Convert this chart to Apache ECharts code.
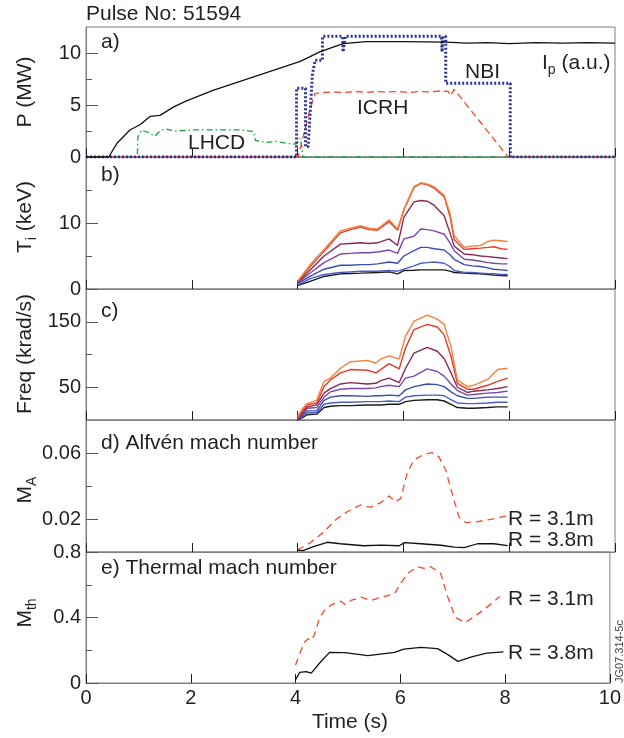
<!DOCTYPE html>
<html><head><meta charset="utf-8">
<script src="https://cdn.jsdelivr.net/npm/echarts@6/dist/echarts.min.js"></script>
<style>html,body{margin:0;padding:0;background:#fff}#c{width:624px;height:738px}</style>
</head><body><div id="c"></div>
<script>
// ---------- data ----------
const xTickLabels = [0, 2, 4, 6, 8, 10];
// panel a: power
const ipTime = [0, 0.43, 0.59, 0.83, 1.02, 1.21, 1.4, 1.65, 1.9, 2.4, 3.17, 4.05, 4.42, 4.86, 5.3, 6.0, 6.8, 7.2, 7.6, 8.0, 8.5, 9.0, 9.5, 10];
const ipVal  = [0, 0, 1.35, 2.6, 3.1, 3.9, 4.0, 4.8, 5.4, 6.4, 7.7, 9.2, 10.1, 10.9, 11.1, 11.1, 11.05, 10.95, 11.0, 10.9, 11.0, 10.95, 11.0, 10.95];
const nbiTime = [0, 3.98, 3.98, 4.15, 4.15, 4.2, 4.28, 4.33, 4.47, 4.47, 4.85, 4.86, 4.89, 4.9, 6.72, 6.73, 6.75, 6.78, 6.8, 6.8, 8.02, 8.02, 10];
const nbiVal  = [0, 0, 6.6, 6.6, 1.0, 1.0, 7.9, 9.3, 9.3, 11.6, 11.6, 10.1, 10.1, 11.6, 11.6, 10.1, 11.6, 11.6, 11.6, 7.1, 7.1, 0, 0];
const icrhTime = [0, 4.01, 4.23, 4.33, 4.5, 4.7, 4.9, 5.1, 5.3, 5.5, 5.7, 5.9, 6.1, 6.3, 6.5, 6.7, 6.85, 6.89, 6.96, 7.98, 10];
const icrhVal  = [0, 0, 4.5, 6.1, 6.2, 6.25, 6.2, 6.3, 6.2, 6.3, 6.25, 6.3, 6.2, 6.3, 6.25, 6.35, 6.3, 5.9, 6.5, 0, 0];
const lhcdTime = [0, 0.97, 0.98, 1.05, 1.1, 1.2, 1.3, 1.4, 1.5, 1.7, 2.0, 2.3, 2.6, 2.9, 3.17, 3.2, 3.4, 3.6, 3.8, 3.97, 4.02, 4.05, 4.08, 4.1, 10];
const lhcdVal  = [0, 0, 1.9, 2.6, 2.5, 2.3, 2.0, 2.5, 2.7, 2.5, 2.6, 2.6, 2.6, 2.6, 2.45, 1.6, 1.4, 1.5, 1.3, 1.25, 1.5, 1.8, 1.0, 0, 0];
// panel b: Ti (keV)
const tiTime = [4.0, 4.25, 4.5, 4.81, 5.0, 5.19, 5.35, 5.51, 5.73, 5.89, 6.01, 6.2, 6.33, 6.45, 6.58, 6.77, 6.88, 6.96, 7.15, 7.3, 7.46, 7.6, 7.71, 7.85, 7.97];
const tiOrange = [1.2, 3.8, 6.0, 8.8, 9.2, 9.6, 9.2, 9.1, 10.5, 9.1, 12.1, 15.5, 16.1, 15.9, 15.5, 14.2, 11.5, 8.1, 6.3, 6.5, 6.6, 7.2, 7.4, 7.3, 7.2];
const tiRed    = [1.1, 3.5, 5.7, 8.5, 9.0, 9.4, 9.0, 8.9, 10.2, 8.9, 12.0, 15.4, 16.0, 15.8, 15.3, 14.0, 11.0, 7.5, 6.0, 6.1, 6.2, 6.3, 6.4, 6.1, 6.0];
const tiMaroon = [1.0, 3.0, 5.0, 6.8, 6.9, 7.0, 6.9, 7.0, 7.6, 6.6, 10.9, 13.2, 13.4, 13.3, 12.7, 11.1, 8.5, 6.5, 5.3, 5.2, 5.0, 4.9, 4.8, 4.7, 4.6];
const tiPurple = [0.9, 2.5, 4.0, 5.3, 5.4, 5.5, 5.5, 5.6, 5.9, 5.4, 7.6, 8.0, 9.1, 9.0, 8.8, 8.3, 7.0, 5.8, 4.5, 4.4, 4.2, 4.0, 3.9, 3.8, 3.8];
const tiBlue   = [0.8, 2.0, 3.0, 3.6, 3.6, 3.7, 3.7, 3.8, 4.1, 3.9, 5.0, 5.8, 6.3, 6.3, 6.1, 5.9, 5.2, 4.5, 3.7, 3.5, 3.4, 3.2, 3.0, 2.9, 2.8];
const tiNavy   = [0.6, 1.6, 2.2, 2.5, 2.6, 2.7, 2.7, 2.7, 2.8, 2.7, 3.0, 3.5, 3.9, 4.0, 4.1, 3.9, 3.4, 2.8, 2.5, 2.5, 2.4, 2.3, 2.3, 2.2, 2.2];
const tiBlack  = [0.5, 1.2, 1.9, 2.3, 2.35, 2.4, 2.45, 2.5, 2.6, 2.3, 2.8, 2.85, 2.9, 2.9, 2.9, 2.9, 2.7, 2.5, 2.4, 2.35, 2.3, 2.2, 2.1, 2.05, 2.0];
// panel c: rotation frequency (krad/s)
const fqTime = [4.0, 4.1, 4.18, 4.36, 4.5, 4.62, 4.81, 5.0, 5.32, 5.48, 5.57, 5.73, 5.92, 6.04, 6.2, 6.45, 6.64, 6.77, 6.9, 7.02, 7.21, 7.33, 7.59, 7.78, 7.97];
const fqOrange = [5, 18, 25, 30, 59, 64, 79, 89, 91, 87, 93, 98, 93, 128, 151, 160, 154, 146, 112, 61, 51, 53, 62, 77, 79];
const fqRed    = [3, 15, 23, 26, 51, 61, 72, 77, 76, 72, 77, 86, 78, 110, 138, 146, 142, 130, 97, 56, 47, 47, 53, 59, 64];
const fqMaroon = [2, 12, 20, 23, 41, 48, 55, 57, 55, 56, 60, 64, 57, 79, 102, 111, 105, 94, 72, 50, 42, 44, 46, 48, 51];
const fqPurple = [2, 10, 18, 19, 35, 43, 47, 48, 48, 49, 51, 53, 51, 64, 67, 78, 74, 67, 55, 45, 38, 39, 41, 42, 44];
const fqBlue   = [1, 8, 14, 14, 30, 35, 37, 37, 36, 37, 37, 38, 37, 46, 51, 55, 54, 51, 43, 37, 33, 33, 35, 35, 35];
const fqNavy   = [1, 6, 11, 11, 24, 26, 27, 27, 28, 28, 28, 29, 28, 35, 37, 38, 38, 37, 31, 26, 25, 25, 26, 27, 27];
const fqBlack  = [0, 4, 8, 9, 19, 21, 22, 22, 23, 23, 23, 24, 24, 28, 30, 31, 31, 29, 24, 19, 18, 18, 19, 20, 20];
// panel d: Alfven mach number
const maRedTime = [4.0, 4.24, 4.5, 4.75, 4.94, 5.19, 5.38, 5.57, 5.73, 5.85, 5.95, 6.07, 6.2, 6.39, 6.54, 6.67, 6.8, 6.92, 7.05, 7.18, 7.4, 7.65, 7.97];
const maRed = [0.0012, 0.0056, 0.0123, 0.0204, 0.0244, 0.0285, 0.0271, 0.0299, 0.034, 0.0305, 0.0325, 0.0477, 0.0558, 0.0592, 0.0602, 0.0578, 0.0497, 0.0356, 0.0214, 0.0178, 0.0184, 0.0198, 0.022];
const maBlackTime = [4.0, 4.1, 4.3, 4.56, 4.81, 5.25, 5.57, 5.92, 6.02, 6.33, 6.71, 6.96, 7.15, 7.4, 7.71, 7.97];
const maBlack = [0.0012, 0.0008, 0.0032, 0.0059, 0.005, 0.0038, 0.0042, 0.0038, 0.0057, 0.005, 0.0041, 0.0029, 0.0027, 0.005, 0.005, 0.0038];
// panel e: thermal mach number
const mthRedTime = [4.0, 4.08, 4.18, 4.24, 4.3, 4.36, 4.46, 4.56, 4.68, 4.87, 4.94, 5.06, 5.25, 5.44, 5.63, 5.89, 6.01, 6.14, 6.33, 6.45, 6.58, 6.77, 6.9, 7.05, 7.24, 7.46, 7.71, 7.9];
const mthRed = [0.11, 0.18, 0.254, 0.27, 0.26, 0.295, 0.40, 0.447, 0.477, 0.50, 0.48, 0.504, 0.524, 0.504, 0.524, 0.545, 0.61, 0.67, 0.71, 0.70, 0.71, 0.67, 0.53, 0.40, 0.37, 0.416, 0.477, 0.528];
const mthBlackTime = [4.0, 4.08, 4.2, 4.3, 4.46, 4.65, 4.94, 5.38, 5.89, 6.07, 6.39, 6.71, 6.9, 7.1, 7.36, 7.65, 7.97];
const mthBlack = [0.02, 0.065, 0.07, 0.06, 0.122, 0.187, 0.185, 0.167, 0.187, 0.207, 0.217, 0.21, 0.175, 0.132, 0.159, 0.183, 0.19];
// y tick labels per panel
const pLabels = [0, 5, 10],        pMinor = [2.5, 7.5];
const tiLabels = [0, 10],          tiMinor = [5, 15];
const fqLabels = [50, 150],        fqMinor = [100];
const maLabels = [0.02, 0.06],     maMinor = [0.04];
const mthLabels = [0, 0.4, 0.8],   mthMinor = [0.2, 0.6];

// ---------- chart ----------
const FONT = 'Liberation Sans, Arial, Helvetica, sans-serif';
const TXT = '#231f20';
const AX = '#808080';
const zip = (t, v) => t.map((x, i) => [x, v[i]]);
const tops = [27, 157, 289, 420, 552];
const heights = [130, 132, 131, 132, 131];
const ranges = [[0, 12.5], [0, 20], [0, 200], [0, 0.08], [0, 0.8]];
const labelSets = [pLabels, tiLabels, fqLabels, maLabels, mthLabels];
const minorSets = [pMinor, tiMinor, fqMinor, maMinor, mthMinor];

const grids = tops.map((t, i) => ({left: 86, right: 9, top: t, height: heights[i], show: true, borderColor: AX, borderWidth: 1}));
const xAxes = tops.map((t, i) => ({
  gridIndex: i, type: 'value', min: 0, max: 10, interval: 2,
  axisLine: {show: true, lineStyle: {color: AX, width: 1}},
  axisTick: {show: true, inside: true, length: 9, lineStyle: {color: '#222', width: 1}},
  axisLabel: {show: i === 4, fontSize: 20, color: TXT, fontFamily: FONT, margin: 5, formatter: v => xTickLabels.includes(v) ? String(v) : ''},
  splitLine: {show: false}
}));
const yAxes = [];
tops.forEach((t, i) => {
  yAxes.push({
    gridIndex: i, type: 'value', min: ranges[i][0], max: ranges[i][1], position: 'left',
    axisLine: {show: true, lineStyle: {color: AX, width: 1}},
    axisTick: {show: true, inside: true, length: 12, customValues: labelSets[i], lineStyle: {color: '#555', width: 1}},
    axisLabel: {show: true, customValues: labelSets[i], fontSize: 20, color: TXT, fontFamily: FONT, margin: 5},
    splitLine: {show: false}
  });
  yAxes.push({
    gridIndex: i, type: 'value', min: ranges[i][0], max: ranges[i][1], position: 'left', offset: 0,
    axisLine: {show: false},
    axisTick: {show: true, inside: true, length: 6, customValues: minorSets[i], lineStyle: {color: '#555', width: 1}},
    axisLabel: {show: false},
    splitLine: {show: false}
  });
});

function line(gi, data, color, width, type, z) {
  return {type: 'line', xAxisIndex: gi, yAxisIndex: gi * 2, data, showSymbol: false, symbol: 'none', silent: true, z: z || 2,
    lineStyle: {color, width, type: type || 'solid'}, animation: false};
}
const warm = ['#f4823a', '#e23b2b', '#8a2858', '#7b46b0', '#3c4db2', '#4d5ec0', '#1a1a1a'];
const tiSets = [tiOrange, tiRed, tiMaroon, tiPurple, tiBlue, tiNavy, tiBlack];
const fqSets = [fqOrange, fqRed, fqMaroon, fqPurple, fqBlue, fqNavy, fqBlack];

const series = [
  line(0, zip(lhcdTime, lhcdVal), '#1aa043', 1.3, [6, 3, 1.5, 3], 3),
  line(0, zip(icrhTime, icrhVal), '#f04a30', 1.3, [7, 4], 4),
  line(0, zip(nbiTime, nbiVal), '#2b3196', 3, [2, 2], 5),
  line(0, zip(ipTime, ipVal), '#111', 1.3, 'solid', 6),
];
tiSets.forEach((s, k) => series.push(line(1, zip(tiTime, s), warm[k], 1.4, 'solid', 10 - k)));
fqSets.forEach((s, k) => series.push(line(2, zip(fqTime, s), warm[k], 1.4, 'solid', 10 - k)));
series.push(line(3, zip(maRedTime, maRed), '#f04a30', 1.3, [7, 5], 4));
series.push(line(3, zip(maBlackTime, maBlack), '#111', 1.3, 'solid', 5));
series.push(line(4, zip(mthRedTime, mthRed), '#f04a30', 1.3, [7, 5], 4));
series.push(line(4, zip(mthBlackTime, mthBlack), '#111', 1.3, 'solid', 5));

const rich = {m: {fontSize: 21, lineHeight: 28, fontFamily: FONT, fill: TXT}, s: {fontSize: 14, lineHeight: 14, fontFamily: FONT, fill: TXT, verticalAlign: 'bottom'}};
function txt(x, y, s, opt) {
  return Object.assign({type: 'text', x, y, silent: true, z: 100,
    style: {text: s, fontSize: 21, fontFamily: FONT, fill: TXT, align: 'left', verticalAlign: 'middle', rich}}, opt || {});
}
function rtxt(x, y, s) { return txt(x, y, s, {rotation: Math.PI / 2, style: {text: s, fontSize: 21, fontFamily: FONT, fill: TXT, align: 'center', verticalAlign: 'middle', rich}}); }

const graphic = [
  txt(86, 14, 'Pulse No: 51594'),
  txt(101, 42, 'a)'),
  txt(101, 175, 'b)'),
  txt(101, 311, 'c)'),
  txt(101, 443, 'd) Alfvén mach number'),
  txt(101, 568, 'e) Thermal mach number'),
  txt(542, 63, '{m|I}{s|p}{m| (a.u.)}'),
  txt(465, 72, 'NBI'),
  txt(357, 108, 'ICRH'),
  txt(188, 143, 'LHCD'),
  txt(508, 519, 'R = 3.1m'),
  txt(508, 540, 'R = 3.8m'),
  txt(508, 599, 'R = 3.1m'),
  txt(508, 653, 'R = 3.8m'),
  txt(350, 722, 'Time (s)', {style: {text: 'Time (s)', fontSize: 21, fontFamily: FONT, fill: TXT, align: 'center', verticalAlign: 'middle'}}),
  rtxt(25, 92, 'P (MW)'),
  rtxt(25, 217, '{m|T}{s|i}{m| (keV)}'),
  rtxt(25, 354, 'Freq (krad/s)'),
  rtxt(25, 490, '{m|M}{s|A}'),
  rtxt(25, 613, '{m|M}{s|th}'),
  txt(620, 683, 'JG07.314-5c', {rotation: Math.PI / 2, style: {text: 'JG07.314-5c', fontSize: 11, fontFamily: FONT, fill: '#444', align: 'left', verticalAlign: 'middle'}})
];

const chart = echarts.init(document.getElementById('c'), null, {renderer: 'canvas'});
chart.setOption({animation: false, backgroundColor: '#fff', grid: grids, xAxis: xAxes, yAxis: yAxes, series, graphic});
</script></body></html>
